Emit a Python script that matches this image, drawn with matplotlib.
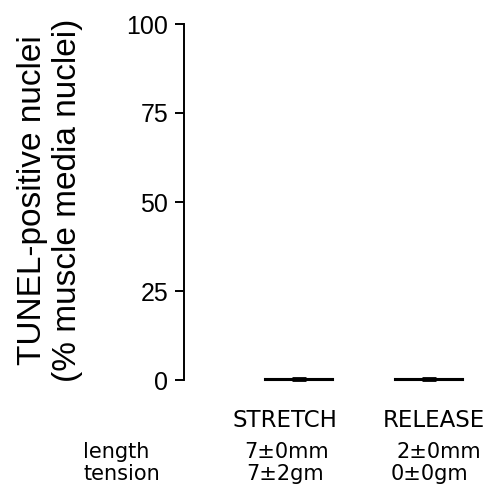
import numpy as np
import matplotlib
matplotlib.use("Agg")
import matplotlib.pyplot as plt

# data
groups = ["STRETCH", "RELEASE"]
tunel_pos = [0.3, 0.4]  # % muscle media nuclei
tunel_err = [0.3, 0.3]
row_names = ["length", "tension"]
length_txt = ["7\u00b10mm", "2\u00b10mm"]
tension_txt = ["7\u00b12gm", "0\u00b10gm"]
yticks = [0, 25, 50, 75, 100]

W, H = 491, 494


def fx(px):
    return px / W


def fy(py):
    return 1 - py / H


fig = plt.figure(figsize=(W / 100, H / 100), dpi=100)
ax = fig.add_axes([fx(184), fy(380), fx(480) - fx(184), fy(24) - fy(380)])

xpos = np.arange(len(groups))
ax.bar(xpos, tunel_pos, width=0.52, color="black", edgecolor="black", linewidth=1.5, clip_on=False, zorder=3)
ax.errorbar(xpos, tunel_pos, yerr=tunel_err, fmt="none", ecolor="black", elinewidth=1.5,
            capsize=4.7, capthick=2, clip_on=False, zorder=4)

ax.set_xlim(-0.885, 1.392)
ax.set_ylim(0, 100)
ax.set_yticks(yticks)
ax.set_yticklabels([str(t) for t in yticks], fontfamily="Liberation Sans", fontsize=18)
ax.tick_params(axis="y", length=6.5, width=1.4, pad=5, direction="out")
ax.set_xticks([])
for s in ["top", "right", "bottom"]:
    ax.spines[s].set_visible(False)
ax.spines["left"].set_linewidth(1.4)

fig.text(fx(50), fy(200), "TUNEL-positive nuclei\n(% muscle media nuclei)", rotation=90,
         ha="center", va="center", multialignment="center", linespacing=1.15,
         fontfamily="Liberation Sans", fontsize=24)

# labels under the bars
grp_x = [284.5, 433.5]
len_x = [287, 439]
ten_x = [285, 429.5]
for i in range(len(groups)):
    fig.text(fx(grp_x[i]), fy(427), groups[i], ha="center", va="baseline",
             fontfamily="DejaVu Sans", fontsize=16.5)
    fig.text(fx(len_x[i]), fy(458), length_txt[i], ha="center", va="baseline",
             fontfamily="DejaVu Sans", fontsize=15)
    fig.text(fx(ten_x[i]), fy(480), tension_txt[i], ha="center", va="baseline",
             fontfamily="DejaVu Sans", fontsize=15)

fig.text(fx(83), fy(458), row_names[0], ha="left", va="baseline", fontfamily="DejaVu Sans", fontsize=15)
fig.text(fx(83), fy(480), row_names[1], ha="left", va="baseline", fontfamily="DejaVu Sans", fontsize=15)

fig.savefig("out.png", dpi=100)
